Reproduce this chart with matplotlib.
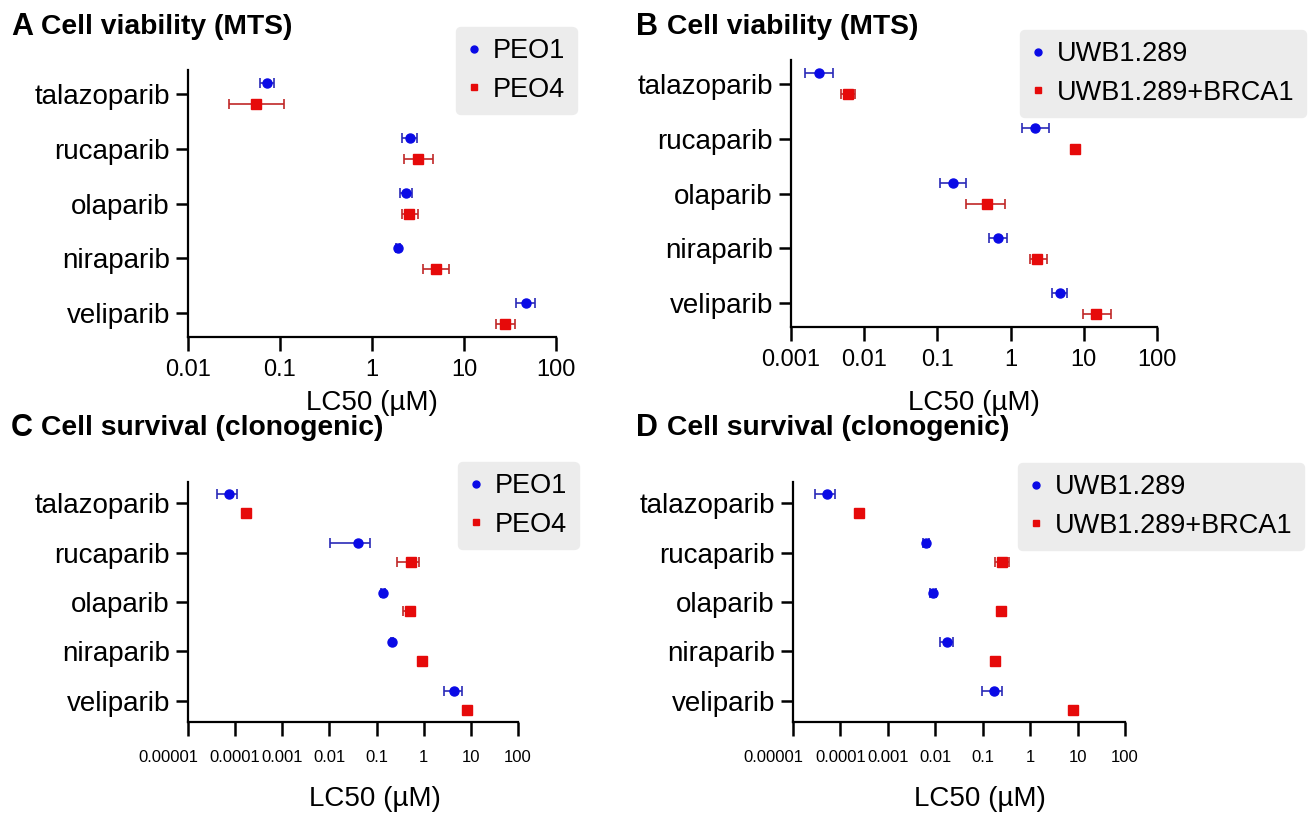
import matplotlib
matplotlib.use('Agg')
import matplotlib.pyplot as plt
import matplotlib.transforms as mtransforms
from matplotlib.lines import Line2D
from matplotlib.ticker import NullLocator
import numpy as np

plt.rcParams['font.family'] = ['Liberation Sans', 'DejaVu Sans']

# drugs, top to bottom
drugs = ['talazoparib', 'rucaparib', 'olaparib', 'niraparib', 'veliparib']

# A - MTS, PEO1 vs PEO4 (LC50 uM, mean, low, high)
a_peo1 = [0.073, 2.56, 2.32, 1.92, 46.9]
a_peo1_lo = [0.061, 2.11, 2.01, 1.84, 36.9]
a_peo1_hi = [0.086, 3.10, 2.74, 2.00, 59.6]
a_peo4 = [0.055, 3.19, 2.51, 5.0, 28.2]
a_peo4_lo = [0.028, 2.22, 2.14, 3.58, 22.0]
a_peo4_hi = [0.111, 4.56, 3.13, 6.88, 35.8]

# B - MTS, UWB1.289 vs UWB1.289+BRCA1
b_uwb = [0.0024, 2.18, 0.162, 0.675, 4.68]
b_uwb_lo = [0.00155, 1.43, 0.108, 0.502, 3.72]
b_uwb_hi = [0.0038, 3.35, 0.248, 0.905, 5.94]
b_brca = [0.0061, 7.65, 0.483, 2.33, 14.9]
b_brca_lo = [0.0048, 7.0, 0.248, 1.84, 9.73]
b_brca_hi = [0.0075, 8.4, 0.847, 3.13, 23.2]

# C - clonogenic, PEO1 vs PEO4
c_peo1 = [7.45e-5, 0.0407, 0.138, 0.213, 4.36]
c_peo1_lo = [4.2e-5, 0.0104, 0.125, 0.200, 2.63]
c_peo1_hi = [1.08e-4, 0.0743, 0.152, 0.226, 6.46]
c_peo4 = [1.67e-4, 0.533, 0.513, 0.918, 8.1]
c_peo4_lo = [1.55e-4, 0.277, 0.366, 0.870, 7.0]
c_peo4_hi = [1.80e-4, 0.776, 0.620, 0.970, 9.3]

# D - clonogenic, UWB1.289 vs UWB1.289+BRCA1
d_uwb = [5.2e-5, 0.00646, 0.0090, 0.0176, 0.171]
d_uwb_lo = [2.96e-5, 0.0056, 0.0079, 0.0126, 0.0955]
d_uwb_hi = [7.7e-5, 0.0075, 0.0103, 0.0236, 0.26]
d_brca = [2.49e-4, 0.26, 0.239, 0.182, 8.15]
d_brca_lo = [2.30e-4, 0.178, 0.225, 0.170, 7.5]
d_brca_hi = [2.70e-4, 0.356, 0.255, 0.195, 8.9]

ticks_a = ['0.01', '0.1', '1', '10', '100']
ticks_b = ['0.001', '0.01', '0.1', '1', '10', '100']
ticks_cd = ['0.00001', '0.0001', '0.001', '0.01', '0.1', '1', '10', '100']

BLUE = '#0a0ae6'
BLUE_E = '#2a2ab8'
RED = '#e60a0a'
RED_E = '#c02828'

W, H = 1309, 814
fig = plt.figure(figsize=(W / 100, H / 100), dpi=100)


def px_rect(x0, x1, ytop, ybot):
    return [x0 / W, 1 - ybot / H, (x1 - x0) / W, (ybot - ytop) / H]


def panel(rect, s1, s2, labels, tick_labels, small, legend_box, xlabel_xy):
    ax = fig.add_axes(rect)
    ypos = np.arange(len(drugs))[::-1]
    for vals, lo, hi, col, ecol, mk, off in [
        (s1[0], s1[1], s1[2], BLUE, BLUE_E, 'o', 0.19),
        (s2[0], s2[1], s2[2], RED, RED_E, 's', -0.19),
    ]:
        v = np.array(vals)
        err = [v - np.array(lo), np.array(hi) - v]
        ax.errorbar(v, ypos + off, xerr=err, fmt=mk, color=col, ecolor=ecol,
                    ms=6.5, elinewidth=1.2, capsize=3.5, capthick=1.2, zorder=3)
    ax.set_xscale('log')
    tv = [float(t) for t in tick_labels]
    ax.set_xlim(tv[0], tv[-1])
    ax.set_xticks(tv)
    if small:
        ax.set_xticklabels(tick_labels, fontsize=12)
        ax.tick_params(axis='x', length=10, width=1.8, pad=10)
    else:
        ax.set_xticklabels(tick_labels, fontsize=17)
        ax.tick_params(axis='x', length=10, width=1.8, pad=6)
    ax.xaxis.set_minor_locator(NullLocator())
    ax.set_ylim(-0.43, 4.43)
    ax.set_yticks(ypos)
    ax.set_yticklabels(drugs, fontsize=20)
    ax.tick_params(axis='y', length=9, width=1.8, pad=4)
    for s in ['top', 'right']:
        ax.spines[s].set_visible(False)
    for s in ['left', 'bottom']:
        ax.spines[s].set_linewidth(1.6)
    ax.set_xlabel('LC50 (µM)', fontsize=20)
    ax.xaxis.set_label_coords(*xlabel_xy)
    if small:
        # first label sits left of its tick in the original
        lab = ax.get_xticklabels()[0]
        lab.set_transform(lab.get_transform() +
                          mtransforms.ScaledTranslation(-0.2, 0, fig.dpi_scale_trans))
    handles = [Line2D([], [], marker='o', color=BLUE, ls='none', ms=5),
               Line2D([], [], marker='s', color=RED, ls='none', ms=5)]
    ax.legend(handles, labels, loc='upper left',
              bbox_to_anchor=(legend_box[0] / W, 1 - legend_box[1] / H),
              bbox_transform=fig.transFigure, fontsize=19.5,
              frameon=True, fancybox=True, facecolor='#ececec', edgecolor='#ececec',
              framealpha=1, handlelength=0.5, handletextpad=0.45,
              borderpad=0.42, labelspacing=0.45, borderaxespad=0)
    return ax


panel(px_rect(188, 556, 70, 337), (a_peo1, a_peo1_lo, a_peo1_hi), (a_peo4, a_peo4_lo, a_peo4_hi),
      ['PEO1', 'PEO4'], ticks_a, False, (456, 27), (0.5, -0.20))
panel(px_rect(791, 1157, 60, 327), (b_uwb, b_uwb_lo, b_uwb_hi), (b_brca, b_brca_lo, b_brca_hi),
      ['UWB1.289', 'UWB1.289+BRCA1'], ticks_b, False, (1020, 30), (0.5, -0.235))
panel(px_rect(188, 518, 482, 722), (c_peo1, c_peo1_lo, c_peo1_hi), (c_peo4, c_peo4_lo, c_peo4_hi),
      ['PEO1', 'PEO4'], ticks_cd, True, (458, 462), (0.567, -0.265))
panel(px_rect(793, 1125, 482, 722), (d_uwb, d_uwb_lo, d_uwb_hi), (d_brca, d_brca_lo, d_brca_hi),
      ['UWB1.289', 'UWB1.289+BRCA1'], ticks_cd, True, (1018, 463), (0.563, -0.265))

# panel titles
for letter, lx, tx, ty, title in [('A', 11, 41, 27, 'Cell viability (MTS)'),
                                  ('B', 636, 667, 27, 'Cell viability (MTS)'),
                                  ('C', 11, 41, 428, 'Cell survival (clonogenic)'),
                                  ('D', 636, 667, 428, 'Cell survival (clonogenic)')]:
    fig.text(lx / W, 1 - ty / H, letter, fontsize=22, fontweight='bold', va='center', ha='left')
    fig.text(tx / W, 1 - ty / H, title, fontsize=20.3, fontweight='bold', va='center', ha='left')

fig.savefig('out.png', dpi=100, facecolor='white')
